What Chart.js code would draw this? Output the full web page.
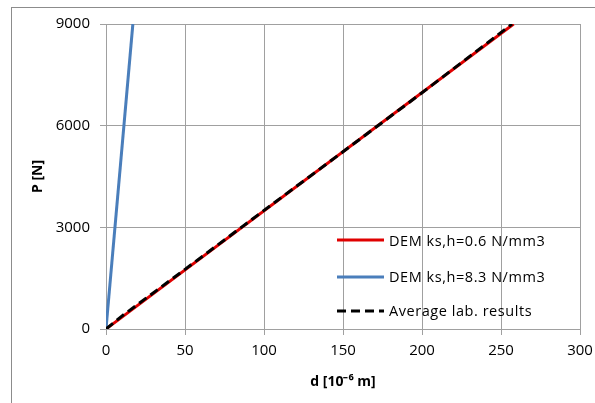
<!DOCTYPE html>
<html>
<head>
<meta charset="utf-8">
<script src="https://cdn.jsdelivr.net/npm/chart.js@4.4.1/dist/chart.umd.min.js"></script>
<style>
  html, body { margin: 0; padding: 0; background: #fff; overflow: hidden; }
  #wrap { position: relative; width: 595px; height: 403px; overflow: hidden; }
  #frame { position: absolute; left: 11px; top: 7px; width: 700px; height: 500px;
           border-left: 1px solid #8c8c8c; border-top: 1px solid #8c8c8c; }
  canvas { position: absolute; left: 0; top: 0; }
  #legend { position: absolute; left: 337px; top: 0; font-family: "Open Sans", sans-serif;
            font-size: 14.5px; letter-spacing: 0.55px; color: #000; }
  .row { position: absolute; left: 0; height: 20px; display: flex; align-items: center; white-space: nowrap; }
  .row svg { margin-right: 5px; }
</style>
</head>
<body>
<div id="wrap">
  <div id="frame"></div>
  <canvas id="c" width="595" height="403"></canvas>
  <div id="legend"></div>
</div>
<script>
// ---- data ----
const seriesNames = ["DEM ks,h=0.6 N/mm3", "DEM ks,h=8.3 N/mm3", "Average lab. results"];
const redD  = [0, 258];
const redP  = [0, 9000];
const blueD = [0, 17];
const blueP = [0, 9000];
const labD  = [0, 10, 50, 100, 150, 200, 257];
const labP  = [0, 380, 1760, 3500, 5230, 6970, 9000];
const xTicks = [0, 50, 100, 150, 200, 250, 300];
const yTicks = [0, 3000, 6000, 9000];

const colors = ["#e00000", "#4a7ebb", "#000000"];
const pts = (xs, ys) => xs.map((x, i) => ({x: x, y: ys[i]}));

const FONT = "'Open Sans', sans-serif";
const grid = "#a0a0a0";

const chart = new Chart(document.getElementById('c'), {
  type: 'scatter',
  data: {
    datasets: [
      { label: seriesNames[0], data: pts(redD, redP), showLine: true, borderColor: colors[0],
        borderWidth: 3, pointRadius: 0, order: 2 },
      { label: seriesNames[1], data: pts(blueD, blueP), showLine: true, borderColor: colors[1],
        borderWidth: 3, pointRadius: 0, order: 3 },
      { label: seriesNames[2], data: pts(labD, labP), showLine: true, borderColor: colors[2],
        borderWidth: 3, borderDash: [9, 5], pointRadius: 0, order: 1 }
    ]
  },
  options: {
    responsive: false,
    animation: false,
    layout: { padding: { left: 0, top: 24, right: 15, bottom: 0 } },
    plugins: { legend: { display: false }, tooltip: { enabled: false } },
    scales: {
      x: {
        type: 'linear', min: xTicks[0], max: xTicks[xTicks.length - 1],
        afterBuildTicks: s => { s.ticks = xTicks.map(v => ({value: v})); },
        afterFit: s => { s.height = 74; s.paddingLeft = 0; s.paddingRight = 0; },
        grid: { color: grid, lineWidth: 1, tickLength: 6 },
        border: { color: grid, width: 1 },
        ticks: { color: "#000", font: { family: FONT, size: 15 }, padding: 7, maxRotation: 0,
                 callback: v => String(v) },
        title: { display: true, text: "d [10\u207B\u2076 m]", color: "#000",
                 font: { family: FONT, size: 14, weight: 'bold' }, padding: { top: 0, bottom: 13 } }
      },
      y: {
        type: 'linear', min: yTicks[0], max: yTicks[yTicks.length - 1],
        afterBuildTicks: s => { s.ticks = yTicks.map(v => ({value: v})); },
        afterFit: s => { s.width = 106; s.paddingTop = 0; s.paddingBottom = 0; },
        grid: { color: grid, lineWidth: 1, tickLength: 6 },
        border: { color: grid, width: 1 },
        ticks: { color: "#000", font: { family: FONT, size: 15 }, padding: 10,
                 callback: v => String(v) },
        title: { display: true, text: "P [N]", color: "#000",
                 font: { family: FONT, size: 14, weight: 'bold' }, padding: { top: 30, bottom: 0 } }
      }
    }
  }
});

// HTML legend built from the chart's datasets
const rowsY = [240, 276.5, 310.5];
const leg = document.getElementById('legend');
chart.data.datasets.forEach((ds, i) => {
  const row = document.createElement('div');
  row.className = 'row';
  row.style.top = (rowsY[i] - 10) + 'px';
  const dash = ds.borderDash ? `stroke-dasharray="${ds.borderDash.join(',')}"` : '';
  row.innerHTML = `<svg width="47" height="6"><line x1="0" y1="3" x2="47" y2="3" stroke="${ds.borderColor}" stroke-width="3" ${dash}/></svg><span>${ds.label}</span>`;
  leg.appendChild(row);
});
</script>
</body>
</html>
